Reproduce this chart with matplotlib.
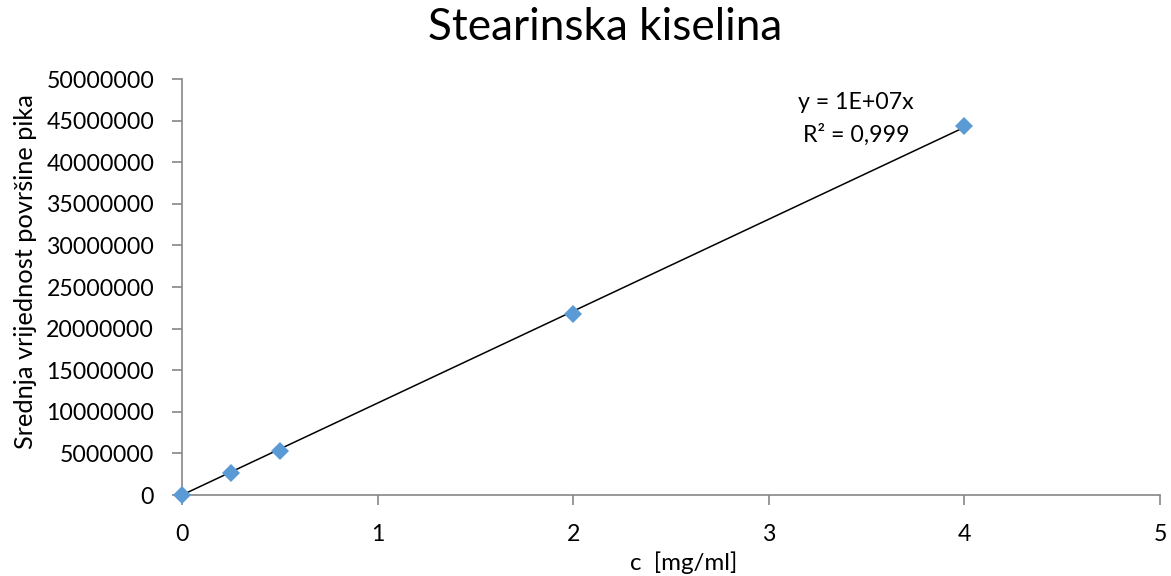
import matplotlib.pyplot as plt
import numpy as np

plt.rcParams['font.family'] = ['Lato', 'DejaVu Sans']

# koncentracija [mg/ml] i srednja povrsina pika
conc = [0, 0.25, 0.5, 2, 4]
area = [0, 2680000, 5320000, 21750000, 44400000]

x_ticks = [0, 1, 2, 3, 4, 5]
y_ticks = list(range(0, 50000001, 5000000))

W, H = 1171, 576

# linearni trend kroz ishodiste (kao u Excelu)
xs = np.array(conc, dtype=float)
ys = np.array(area, dtype=float)
slope = (xs * ys).sum() / (xs * xs).sum()

fig = plt.figure(figsize=(W / 100, H / 100), dpi=100)
ax = fig.add_axes([182 / W, 1 - 495 / H, (1160 - 182) / W, (495 - 79) / H])

ax.plot([0, 4], [0, 4 * slope], color='black', lw=1.1, zorder=2)
ax.plot(conc, area, linestyle='none', marker='D', ms=9, color='#5B9BD5',
        markeredgewidth=0, zorder=3, clip_on=False)

ax.set_xlim(0, 5)
ax.set_ylim(0, 50000000)
ax.set_xticks(x_ticks)
ax.set_yticks(y_ticks)
ax.set_yticklabels([str(v) for v in y_ticks])

for s in ['top', 'right']:
    ax.spines[s].set_visible(False)
for s in ['left', 'bottom']:
    ax.spines[s].set_color('#868686')
    ax.spines[s].set_linewidth(1.2)
ax.tick_params(axis='both', direction='out', length=7, width=1.2, color='#868686',
               labelsize=16, labelcolor='black')
ax.tick_params(axis='x', pad=14)
ax.tick_params(axis='y', pad=13)


def fit(t, target_px, vertical=False):
    # podesi velicinu fonta tako da tekst ima zadanu duljinu u pikselima
    r = fig.canvas.get_renderer()
    bb = t.get_window_extent(r)
    size = bb.height if vertical else bb.width
    t.set_fontsize(t.get_fontsize() * target_px / size)


def fy(px):
    return 1 - px / H


title = fig.text(605 / W, fy(40), 'Stearinska kiselina', fontsize=30,
                 ha='center', va='baseline')
ylab = fig.text(26 / W, fy(271.5), 'Srednja vrijednost površine pika',
                fontsize=16, rotation=90, ha='center', va='center')
xlab = fig.text(684 / W, fy(570), 'c  [mg/ml]', fontsize=16,
                ha='center', va='baseline')
eq1 = ax.text(3.446, 46400000, 'y = 1E+07x', fontsize=16, ha='center', va='baseline')
eq2 = ax.text(3.446, 42450000, 'R² = 0,999', fontsize=16, ha='center', va='baseline')

fig.canvas.draw()
fit(title, 354)
fit(ylab, 357, vertical=True)
fit(xlab, 108)
fit(eq1, 116)
eq2.set_fontsize(eq1.get_fontsize())

r = fig.canvas.get_renderer()
tw = ax.get_yticklabels()[-1].get_window_extent(r).width
ax.tick_params(axis='both', labelsize=16 * 107 / tw)

fig.savefig('out.png', dpi=100)
